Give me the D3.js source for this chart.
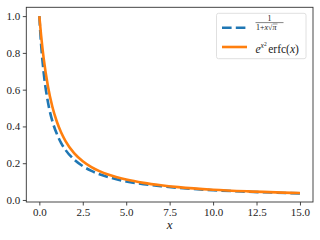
<!DOCTYPE html>
<html>
<head>
<meta charset="utf-8">
<script src="https://cdn.jsdelivr.net/npm/d3@7"></script>
<style>
  body { margin: 0; background: #fff; }
  svg { display: block; }
  text { font-family: "Liberation Serif", "DejaVu Serif", serif; fill: #222; }
</style>
</head>
<body>
<svg id="chart" width="320" height="240"></svg>
<script>
// values
const xs = [0, 0.1, 0.25, 0.5, 0.75, 1, 1.25, 1.5, 2, 2.5, 3, 4, 5, 6, 7, 8, 10, 12, 15];
const approxVals = [1, 0.849, 0.693, 0.530, 0.429, 0.361, 0.311, 0.273, 0.220, 0.184, 0.158, 0.124, 0.101, 0.086, 0.075, 0.066, 0.053, 0.045, 0.036];
const erfcxVals = [1, 0.897, 0.770, 0.616, 0.507, 0.428, 0.368, 0.322, 0.255, 0.211, 0.179, 0.137, 0.111, 0.093, 0.080, 0.070, 0.056, 0.047, 0.038];
const xTicks = [0, 2.5, 5, 7.5, 10, 12.5, 15];
const yTicks = [0, 0.2, 0.4, 0.6, 0.8, 1.0];

const svg = d3.select("#chart");
const mLeft = 26.3, mRight = 313, mTop = 7.3, mBottom = 202;

const x = d3.scaleLinear().domain([-0.75, 15.75]).range([mLeft, mRight]);
const y = d3.scaleLinear().domain([-0.011, 1.048]).range([mBottom, mTop]);

// axes
const xAxis = svg.append("g")
  .attr("transform", `translate(0,${mBottom})`)
  .call(d3.axisBottom(x).tickValues(xTicks).tickFormat(d3.format(".1f")).tickSize(3.5).tickPadding(3));
const yAxis = svg.append("g")
  .attr("transform", `translate(${mLeft},0)`)
  .call(d3.axisLeft(y).tickValues(yTicks).tickFormat(d3.format(".1f")).tickSize(3.5).tickPadding(2.5));

[xAxis, yAxis].forEach(g => {
  g.attr("font-family", null);
  g.select(".domain").remove();
  g.selectAll("line").attr("stroke", "#333").attr("stroke-width", 0.9);
  g.selectAll("text").style("font-family", "Liberation Serif").style("font-size", "11px").attr("fill", "#222");
});

// curves
const line = vals => d3.line()
  .x((d, i) => x(xs[i]))
  .y(d => y(d))
  .curve(d3.curveMonotoneX)(vals);

svg.append("path")
  .attr("d", line(approxVals))
  .attr("fill", "none")
  .attr("stroke", "#1f77b4")
  .attr("stroke-width", 2.6)
  .attr("stroke-dasharray", "9.6,4.2");

svg.append("path")
  .attr("d", line(erfcxVals))
  .attr("fill", "none")
  .attr("stroke", "#ff7f0e")
  .attr("stroke-width", 2.6);

// frame
svg.append("rect")
  .attr("x", mLeft).attr("y", mTop)
  .attr("width", mRight - mLeft).attr("height", mBottom - mTop)
  .attr("fill", "none").attr("stroke", "#333").attr("stroke-width", 0.9);

// x label
svg.append("text")
  .attr("x", (mLeft + mRight) / 2).attr("y", 229)
  .attr("text-anchor", "middle")
  .style("font-size", "13px").style("font-style", "italic")
  .text("x");

// legend
const lg = svg.append("g");
lg.append("rect")
  .attr("x", 216.5).attr("y", 13.3).attr("width", 89.5).attr("height", 45.4)
  .attr("rx", 2)
  .attr("fill", "#fff").attr("fill-opacity", 0.8)
  .attr("stroke", "#ddd").attr("stroke-width", 0.9);

lg.append("line")
  .attr("x1", 222).attr("x2", 247).attr("y1", 27.7).attr("y2", 27.7)
  .attr("stroke", "#1f77b4").attr("stroke-width", 2.6).attr("stroke-dasharray", "9.6,4.2");
lg.append("line")
  .attr("x1", 222).attr("x2", 247).attr("y1", 47).attr("y2", 47)
  .attr("stroke", "#ff7f0e").attr("stroke-width", 2.6);

// fraction 1 / (1 + x sqrt(pi))
lg.append("text").attr("x", 269.5).attr("y", 20.8).attr("text-anchor", "middle")
  .style("font-size", "8px").text("1");
lg.append("line").attr("x1", 255.5).attr("x2", 283.5).attr("y1", 22.6).attr("y2", 22.6)
  .attr("stroke", "#333").attr("stroke-width", 0.6);
const den = lg.append("text").attr("x", 256).attr("y", 29.6).style("font-size", "8px");
den.append("tspan").text("1+");
den.append("tspan").style("font-style", "italic").text("x");
den.append("tspan").text("√");
den.append("tspan").style("font-style", "italic").text("π");
// radical bar over pi
const dbox = den.node().getBBox();
lg.append("line").attr("x1", dbox.x + dbox.width - 4.5).attr("x2", dbox.x + dbox.width)
  .attr("y1", 24).attr("y2", 24).attr("stroke", "#333").attr("stroke-width", 0.5);

// e^{x^2} erfc(x)
const t2 = lg.append("text").attr("x", 255.5).attr("y", 52.5).style("font-size", "11.5px");
t2.append("tspan").style("font-style", "italic").text("e");
t2.append("tspan").attr("dy", -4.5).style("font-size", "7.5px").style("font-style", "italic").text("x");
t2.append("tspan").attr("dy", -2.5).style("font-size", "5.5px").text("2");
t2.append("tspan").attr("dy", 7).attr("dx", 1.5).text("erfc(");
t2.append("tspan").style("font-style", "italic").text("x");
t2.append("tspan").text(")");
</script>
</body>
</html>
